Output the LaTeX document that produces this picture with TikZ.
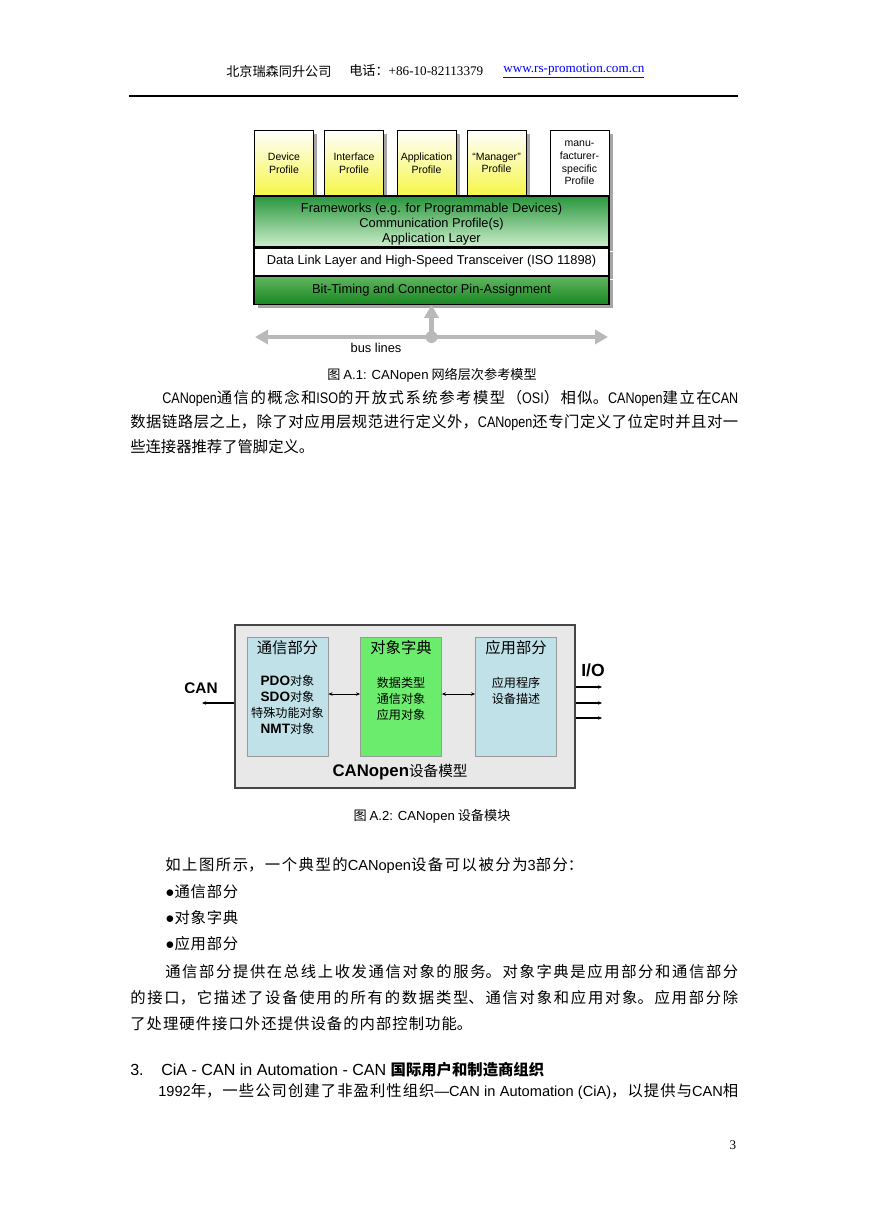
\documentclass[tikz,border=0pt]{standalone}
\usepackage{fontspec}
\setmainfont{Liberation Sans}
\newfontfamily\zh{Noto Sans CJK SC}
\newfontfamily\lat{Liberation Sans}
\newfontfamily\latn{Liberation Sans}[FakeStretch=0.82]
\newfontfamily\tms{Liberation Serif}
\usetikzlibrary{arrows.meta,positioning,shadows}

\newlength\pxu
\setlength\pxu{0.6847pt}
\XeTeXlinebreaklocale "zh"
\XeTeXlinebreakskip=0pt plus 8pt minus 0.5pt

\newcommand\en{\lat\fontsize{10}{12}\selectfont}
\newcommand\enn{\latn\fontsize{10.5}{12}\selectfont}
\newcommand\bfen{\lat\bfseries\fontsize{9.3}{11}\selectfont}

\definecolor{profyellow}{RGB}{246,246,70}
\definecolor{frametop}{RGB}{40,150,60}
\definecolor{framebot}{RGB}{205,238,205}
\definecolor{bittop}{RGB}{95,182,95}
\definecolor{bitbot}{RGB}{25,135,35}
\definecolor{busgray}{RGB}{185,185,185}
\definecolor{partblue}{RGB}{192,225,232}
\definecolor{dictgreen}{RGB}{108,236,108}
\definecolor{modelgray}{RGB}{232,232,232}
\definecolor{modelborder}{RGB}{70,70,70}

\begin{document}
\begin{tikzpicture}[x=0.6847pt, y=-0.6847pt,
  body/.style={anchor=west, inner sep=0pt, font=\zh\fontsize{10.5}{12}\selectfont},
  spread/.style={body, text width=#1\pxu, align=justify,
    execute at begin node={\parfillskip=0pt\relax}},
  hdr/.style={anchor=west, inner sep=0pt, font=\tms\fontsize{9}{11}\selectfont},
  figcap/.style={inner sep=0pt, font=\zh\fontsize{9}{11}\selectfont},
  shade/.style={drop shadow={shadow xshift=2.7pt, shadow yshift=-2.7pt,
    fill=black!35, opacity=1}},
  profile/.style={draw=black, line width=0.6pt, top color=white, bottom color=profyellow,
    minimum width=59\pxu, minimum height=66\pxu, inner sep=0pt, align=center,
    font=\lat\fontsize{7.2}{8.6}\selectfont, shade},
  band/.style={draw=black, line width=0.8pt, minimum width=355\pxu, inner sep=0pt,
    align=center, font=\lat\fontsize{8.8}{10.3}\selectfont, shade},
  busline/.style={draw=busgray, line width=3.4pt},
  bustip/.tip={Triangle[length=8.9pt, width=9.6pt]},
  smalltip/.tip={Stealth[length=2.8pt, width=2.4pt]},
  partbox/.style={draw=gray!80, line width=0.6pt, minimum width=81\pxu,
    minimum height=119\pxu, inner sep=0pt},
  parttitle/.style={inner sep=0pt, font=\zh\fontsize{10.5}{12}\selectfont},
  partbody/.style={inner sep=0pt, align=center, font=\zh\fontsize{8.3}{11}\selectfont},
  link/.style={line width=0.6pt, smalltip-smalltip},
  outlink/.style={line width=0.8pt, -smalltip},
]
\fill[white] (0,0) rectangle (869,1228);
\useasboundingbox (0,0) rectangle (869,1228);

% page header
\node[hdr] (hdrco) at (226,71) {\zh 北京瑞森同升公司};
\node[hdr] (hdrtel) at (349,71) {{\zh 电话：}+86-10-82113379};
\node[hdr, text=blue] (hdrurl) at (503,71) {\underline{www.rs-promotion.com.cn}};
\draw[line width=0.75pt] (129,96) -- (738,96);

% layer model
\node[profile] (devprof) at (284,163) {Device\\Profile};
\node[profile] (ifprof) at (354,163) {Interface\\Profile};
\node[profile] (appprof) at (426.5,163) {Application\\Profile};
\node[profile] (mgrprof) at (496.5,163) {“Manager”\\Profile};
\node[profile, fill=white, top color=white, bottom color=white] (mfrprof) at (579.5,163)
  {manu-\\facturer-\\specific\\Profile};
\node[band, top color=frametop, bottom color=framebot, minimum height=51\pxu,
  text height=31pt, text depth=2pt] (frame)
  at (431.5,221.5) {Frameworks (e.g. for Programmable Devices)\\Communication Profile(s)\\Application Layer};
\node[band, fill=white, minimum height=27\pxu, below=0pt of frame] (dll)
  {Data Link Layer and High-Speed Transceiver (ISO 11898)};
\node[band, top color=bittop, bottom color=bitbot, minimum height=28\pxu, below=0pt of dll] (bittiming)
  {Bit-Timing and Connector Pin-Assignment};

\coordinate (busL) at (255,337);
\coordinate (busR) at (608,337);
\coordinate (busJ) at (431.5,337);
\draw[busline, bustip-bustip] (busL) -- (busR);
\draw[busline, -bustip] (busJ) -- (bittiming.south);
\fill[busgray] (busJ) circle (6);
\node[inner sep=0pt, font=\lat\fontsize{8.8}{10}\selectfont] (buslabel) at (376,348) {bus lines};

\node[figcap] (cap1) at (432,375) {图 {\lat A.1: CANopen} 网络层次参考模型};

% first paragraph
\node[spread=576] (p1a) at (162,399) {{\enn CANopen}通信的概念和{\enn ISO}的开放式系统参考模型（{\enn OSI}）相似。{\enn CANopen}建立在{\enn CAN}};
\node[spread=608] (p1b) at (130,423) {数据链路层之上，除了对应用层规范进行定义外，{\enn CANopen}还专门定义了位定时并且对一};
\node[body] (p1c) at (130,447) {些连接器推荐了管脚定义。};

% device model
\node[draw=modelborder, line width=1pt, fill=modelgray, minimum width=340\pxu,
  minimum height=163\pxu] (model) at (405,706.5) {};
\node[partbox, fill=partblue] (comm) at (287.5,696.5) {};
\node[partbox, fill=dictgreen] (dict) at (401,696.5) {};
\node[partbox, fill=partblue] (app) at (516,696.5) {};
\node[parttitle] (commtitle) at (287.5,648) {通信部分};
\node[parttitle] (dicttitle) at (401,648) {对象字典};
\node[parttitle] (apptitle) at (516,648) {应用部分};
\node[partbody] (commlist) at (287.5,705) {{\bfen PDO}对象\\{\bfen SDO}对象\\特殊功能对象\\{\bfen NMT}对象};
\node[partbody] (dictlist) at (401,698.5) {数据类型\\通信对象\\应用对象};
\node[partbody] (applist) at (516,690.5) {应用程序\\设备描述};
\draw[link] ([yshift=1.7pt]comm.east) -- ([yshift=1.7pt]dict.west);
\draw[link] ([yshift=1.7pt]dict.east) -- ([yshift=1.7pt]app.west);

\coordinate (canend) at (202,703);
\draw[outlink] (model.west |- canend) -- (canend);
\node[inner sep=0pt, font=\lat\bfseries\fontsize{10.5}{12}\selectfont] (canlabel) at (201,688) {CAN};
\foreach \yy [count=\i] in {687,703,718} {
  \coordinate (io\i) at (602,\yy);
  \draw[outlink] (model.east |- io\i) -- (io\i);
}
\node[inner sep=0pt, font=\lat\bfseries\fontsize{12}{14}\selectfont] (iolabel) at (593,670) {I/O};
\node[inner sep=0pt, font=\zh\fontsize{10}{12}\selectfont] (modellabel) at (400,772)
  {{\lat\bfseries\fontsize{11.5}{12}\selectfont CANopen}设备模型};

\node[figcap] (cap2) at (432,816) {图 {\lat A.2: CANopen} 设备模块};

% second text block
\node[spread=418] (p2) at (165,866) {如上图所示，一个典型的{\en CANopen}设备可以被分为{\en 3}部分：};
\foreach \word [count=\i] in {通信部分,对象字典,应用部分}
  \node[spread=73] (bul\i) at (165,{866+26*\i}) {{\lat ●}\word};
\node[spread=573] (p3a) at (165,972) {通信部分提供在总线上收发通信对象的服务。对象字典是应用部分和通信部分};
\node[spread=608] (p3b) at (130,998) {的接口，它描述了设备使用的所有的数据类型、通信对象和应用对象。应用部分除};
\node[spread=342] (p3c) at (130,1024) {了处理硬件接口外还提供设备的内部控制功能。};

\node[body] (secnum) at (130,1070) {{\lat\fontsize{11}{13}\selectfont 3.}};
\node[body] (sectitle) at (161,1070) {{\lat\fontsize{11}{13}\selectfont CiA - CAN in Automation - CAN }{\bfseries 国际用户和制造商组织}};
\node[spread=580] (p4) at (158,1092) {{\en 1992}年，一些公司创建了非盈利性组织{\en —CAN in Automation (CiA)}，以提供与{\en CAN}相};

\node[hdr, anchor=center] (pagenum) at (733,1145) {3};
\end{tikzpicture}
\end{document}
